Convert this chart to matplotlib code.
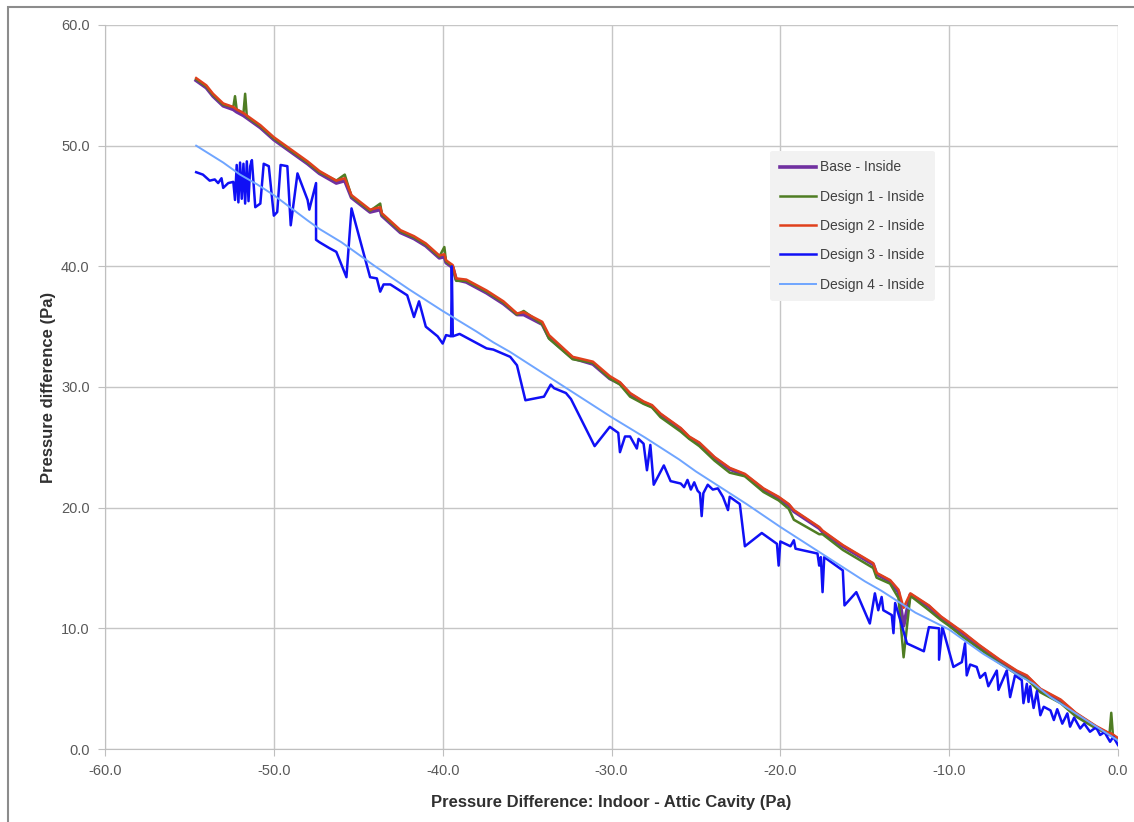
import matplotlib
matplotlib.use("Agg")
import matplotlib.pyplot as plt
from matplotlib.patches import Rectangle

plt.rcParams['font.family'] = ['Liberation Sans', 'DejaVu Sans']

# shared x values for the three upper curves (Pa)
x_top = [-54.6, -54.0, -53.6, -53.0, -52.4, -52.3, -52.2, -51.8, -51.7, -51.6,
         -50.8, -50.0, -49.0, -48.0, -47.3, -46.3, -45.8, -45.4, -44.3, -43.7,
         -43.6, -42.5, -41.7, -41.0, -40.2, -39.9, -39.8, -39.4, -39.2, -38.6,
         -37.4, -36.4, -35.6, -35.2, -34.1, -33.7, -32.3, -31.1, -30.1, -29.5,
         -28.9, -28.1, -27.6, -27.1, -25.9, -25.4, -24.8, -23.9, -23.0, -22.1,
         -21.0, -20.1, -19.5, -19.2, -17.7, -17.5, -16.3, -14.5, -14.3, -13.5,
         -13.0, -12.7, -12.3, -11.2, -10.5, -10.0, -9.2, -8.2, -7.0, -6.0,
         -5.4, -4.6, -3.4, -2.5, -1.3, -0.5, -0.4, -0.3, 0.0]

design2 = [55.6, 55.0, 54.3, 53.5, 53.2, 53.1, 53.0, 52.7, 52.6, 52.5,
           51.7, 50.7, 49.7, 48.7, 47.9, 47.1, 47.3, 45.9, 44.7, 44.9,
           44.4, 43.0, 42.5, 41.9, 40.9, 41.0, 40.5, 40.1, 39.0, 38.9,
           38.0, 37.1, 36.1, 36.2, 35.4, 34.3, 32.5, 32.1, 30.9, 30.4,
           29.5, 28.8, 28.5, 27.8, 26.6, 25.9, 25.4, 24.2, 23.3, 22.8,
           21.6, 20.9, 20.3, 19.8, 18.4, 18.1, 16.9, 15.4, 14.6, 14.0,
           13.2, 11.7, 12.9, 11.9, 11.0, 10.5, 9.7, 8.6, 7.4, 6.5,
           6.1, 5.0, 4.1, 3.0, 1.9, 1.3, 1.3, 1.2, 0.9]

design1 = [55.5, 54.9, 54.2, 53.4, 53.2, 54.1, 53.0, 52.7, 54.3, 52.4,
           51.6, 50.6, 49.6, 48.6, 47.8, 47.1, 47.6, 45.8, 44.6, 45.2,
           44.3, 42.9, 42.4, 41.8, 40.8, 41.6, 40.4, 40.0, 38.8, 38.8,
           37.9, 37.0, 36.0, 36.3, 35.2, 34.0, 32.3, 32.0, 30.7, 30.2,
           29.2, 28.6, 28.3, 27.5, 26.3, 25.7, 25.1, 23.9, 22.9, 22.6,
           21.3, 20.6, 19.9, 19.0, 17.8, 17.8, 16.5, 15.0, 14.2, 13.7,
           12.5, 7.6, 12.7, 11.5, 10.7, 10.2, 9.3, 8.3, 7.1, 6.2,
           5.8, 4.7, 3.8, 2.7, 1.7, 1.3, 3.0, 1.1, 0.8]

base = [55.4, 54.8, 54.1, 53.3, 53.0, 52.9, 52.8, 52.5, 52.4, 52.3,
        51.5, 50.5, 49.5, 48.5, 47.7, 46.9, 47.1, 45.7, 44.5, 44.7,
        44.2, 42.8, 42.3, 41.7, 40.7, 40.8, 40.3, 39.9, 38.9, 38.7,
        37.8, 36.9, 36.0, 36.0, 35.2, 34.1, 32.4, 31.9, 30.7, 30.3,
        29.4, 28.7, 28.4, 27.7, 26.5, 25.8, 25.3, 24.1, 23.2, 22.7,
        21.5, 20.8, 20.2, 19.7, 18.3, 18.0, 16.8, 15.3, 14.5, 13.9,
        13.0, 10.2, 12.8, 11.8, 10.9, 10.4, 9.6, 8.5, 7.3, 6.4,
        6.0, 4.9, 4.0, 2.9, 1.8, 1.2, 1.2, 1.1, 0.8]

# Design 3 - Inside (jagged)
x_d3 = [-54.6, -54.2, -53.8, -53.5, -53.3, -53.1, -53.0, -52.7, -52.4, -52.3,
        -52.2, -52.1, -52.0, -51.9, -51.8, -51.7, -51.6, -51.5, -51.4, -51.3,
        -51.1, -50.8, -50.6, -50.3, -50.0, -49.8, -49.6, -49.2, -49.0, -48.6,
        -48.0, -47.9, -47.5, -47.5, -47.3, -46.7, -46.3, -45.7, -45.4, -44.3,
        -43.9, -43.7, -43.5, -43.1, -42.1, -41.7, -41.4, -41.0, -40.3, -40.0,
        -39.8, -39.5, -39.46, -39.4, -39.2, -39.0, -37.8, -37.4, -37.0, -36.0,
        -35.6, -35.1, -34.0, -33.6, -33.4, -32.7, -32.4, -31.0, -30.1, -29.6,
        -29.5, -29.2, -28.9, -28.5, -28.4, -28.1, -27.9, -27.7, -27.5, -26.9,
        -26.5, -25.9, -25.7, -25.5, -25.3, -25.1, -24.9, -24.76, -24.66, -24.56,
        -24.3, -24.0, -23.7, -23.4, -23.1, -23.0, -22.4, -22.1, -21.1, -20.2,
        -20.1, -20.0, -19.4, -19.2, -19.1, -17.8, -17.7, -17.6, -17.5, -17.4,
        -16.3, -16.2, -15.5, -14.7, -14.4, -14.2, -14.0, -13.9, -13.4, -13.3,
        -13.2, -12.9, -12.5, -11.5, -11.2, -10.6, -10.6, -10.4, -9.75, -9.25,
        -9.06, -8.96, -8.76, -8.37, -8.17, -7.87, -7.68, -7.18, -7.08, -6.59,
        -6.39, -6.1, -5.7, -5.6, -5.4, -5.3, -5.2, -5.0, -4.8, -4.6,
        -4.4, -4.0, -3.8, -3.6, -3.3, -3.0, -2.84, -2.6, -2.24, -2.0,
        -1.66, -1.3, -1.06, -0.8, -0.47, -0.28, 0.0]
design3 = [47.8, 47.6, 47.1, 47.2, 46.9, 47.3, 46.5, 46.9, 47.0, 45.5,
           48.4, 45.3, 48.6, 45.6, 48.5, 45.2, 48.7, 45.4, 48.3, 48.8,
           44.9, 45.2, 48.5, 48.3, 44.2, 44.5, 48.4, 48.3, 43.4, 47.7,
           45.5, 44.7, 46.9, 42.2, 42.0, 41.5, 41.2, 39.1, 44.8, 39.1,
           39.0, 37.9, 38.5, 38.5, 37.6, 35.8, 37.1, 35.0, 34.2, 33.6,
           34.3, 34.2, 40.0, 34.2, 34.3, 34.4, 33.5, 33.2, 33.1, 32.5,
           31.8, 28.9, 29.2, 30.2, 29.9, 29.5, 29.0, 25.1, 26.7, 26.2,
           24.6, 25.9, 25.9, 24.9, 25.7, 25.3, 23.1, 25.2, 21.9, 23.5,
           22.2, 22.0, 21.7, 22.3, 21.5, 22.1, 21.4, 21.2, 19.3, 21.2,
           21.9, 21.5, 21.6, 20.9, 19.8, 20.9, 20.3, 16.8, 17.9, 17.0,
           15.2, 17.2, 16.8, 17.3, 16.6, 16.2, 15.2, 15.9, 13.0, 15.9,
           14.8, 11.9, 13.0, 10.4, 12.9, 11.5, 12.6, 11.5, 11.1, 9.6,
           12.1, 10.7, 8.75, 8.1, 10.1, 10.0, 7.4, 10.1, 6.8, 7.2,
           8.75, 6.1, 7.0, 6.8, 5.9, 6.3, 5.2, 6.5, 4.9, 6.5,
           4.3, 6.1, 5.7, 3.8, 5.4, 3.9, 5.2, 3.4, 4.8, 2.8,
           3.5, 3.2, 2.4, 3.3, 2.1, 2.95, 1.85, 2.6, 1.7, 2.1,
           1.43, 1.8, 1.16, 1.4, 0.6, 1.0, 0.33]

# Design 4 - Inside (smooth)
x_d4 = [-54.6, -53.0, -52.0, -51.0, -50.0, -48.0, -47.3, -46.0, -45.0, -44.0,
        -42.0, -40.0, -38.0, -37.0, -36.0, -35.0, -34.0, -32.0, -30.0, -28.0,
        -26.0, -25.0, -24.0, -22.0, -20.0, -18.0, -16.0, -15.0, -14.0, -12.0,
        -10.0, -8.0, -6.0, -5.0, -4.0, -2.0, -1.0, 0.0]
design4 = [50.0, 48.6, 47.6, 46.8, 45.9, 43.8, 43.1, 42.0, 41.0, 40.0,
           38.1, 36.3, 34.6, 33.7, 32.9, 32.0, 31.1, 29.3, 27.5, 25.8,
           24.0, 23.0, 22.1, 20.3, 18.4, 16.6, 14.8, 13.9, 13.1, 11.3,
           9.9, 7.9, 6.2, 5.4, 4.3, 2.5, 1.6, 0.7]

x_ticks = [-60, -50, -40, -30, -20, -10, 0]
y_ticks = [0, 10, 20, 30, 40, 50, 60]

fig = plt.figure(figsize=(11.34, 8.22), dpi=100)
ax = fig.add_axes([0.0926, 0.0888, 0.8933, 0.8808])

# grey chart-area frame
fig.patches.append(Rectangle((8 / 1134, -0.05), 1.2, 1 - 7 / 822 + 0.05,
                             transform=fig.transFigure, fill=False,
                             edgecolor='#8c8c8c', linewidth=1.5))

ax.plot(x_top, base, color='#7030a0', lw=2.6, label='Base - Inside', zorder=3)
ax.plot(x_top, design1, color='#4f7d23', lw=1.8, label='Design 1 - Inside', zorder=4)
ax.plot(x_top, design2, color='#e0401c', lw=1.8, label='Design 2 - Inside', zorder=5)
ax.plot(x_d3, design3, color='#1010f5', lw=1.8, label='Design 3 - Inside', zorder=6)
ax.plot(x_d4, design4, color='#6fa5ff', lw=1.4, label='Design 4 - Inside', zorder=7)

ax.set_xlim(-60, 0)
ax.set_ylim(0, 60)
ax.set_xticks(x_ticks)
ax.set_yticks(y_ticks)
ax.set_xticklabels(['%.1f' % v for v in x_ticks])
ax.set_yticklabels(['%.1f' % v for v in y_ticks])
ax.grid(True, color='#c6c6c6', lw=1.0, zorder=0)
ax.set_axisbelow(True)
for side in ['top', 'right']:
    ax.spines[side].set_visible(False)
for side in ['left', 'bottom']:
    ax.spines[side].set_color('#bfbfbf')
ax.tick_params(axis='both', direction='out', length=5, color='#bfbfbf',
               labelsize=10.5, labelcolor='#595959', pad=6)

ax.set_xlabel('Pressure Difference: Indoor - Attic Cavity (Pa)', fontsize=12,
              fontweight='bold', color='#303030', labelpad=12)
ax.set_ylabel('Pressure difference (Pa)', fontsize=12, fontweight='bold',
              color='#303030', labelpad=4)

leg = ax.legend(loc='upper left', bbox_to_anchor=(0.650, 0.836), fontsize=10,
                frameon=True, facecolor='#f2f2f2', edgecolor='none',
                framealpha=1, handlelength=2.6, labelspacing=1.1,
                borderpad=0.7, handletextpad=0.3)
for t in leg.get_texts():
    t.set_color('#404040')

fig.savefig('out.png', dpi=100)
